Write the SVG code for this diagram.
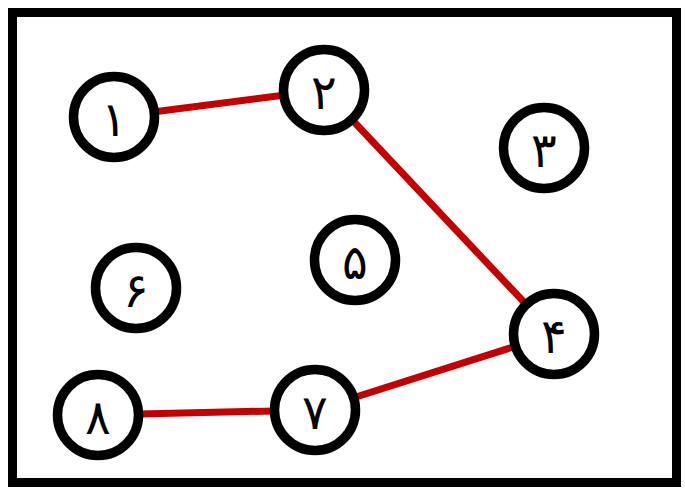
<svg xmlns="http://www.w3.org/2000/svg" width="685" height="491" viewBox="0 0 685 491">
  <style>
    .frame { fill: #ffffff; stroke: #000000; stroke-width: 9; }
    .edge { stroke: #c40000; stroke-width: 7; stroke-linecap: butt; }
    .node circle { fill: #ffffff; stroke: #000000; stroke-width: 9.5; }
    .node text { font-family: "DejaVu Sans", "Noto Sans", sans-serif; font-size: 48px; font-weight: normal; fill: #000000; text-anchor: middle; dominant-baseline: central; }
  </style>
  <rect class="frame" x="12.5" y="12.5" width="664" height="470"/>
  <g id="connectors">
    <line class="edge" x1="114" y1="117" x2="324" y2="90"/>
    <line class="edge" x1="324" y1="90" x2="554" y2="334"/>
    <line class="edge" x1="554" y1="334" x2="315" y2="410"/>
    <line class="edge" x1="315" y1="410" x2="98" y2="415"/>
  </g>
  <g id="n1" class="node"><circle cx="114" cy="117" r="40.5"/><text x="114" y="119">۱</text></g>
  <g id="n2" class="node"><circle cx="324" cy="90" r="40.5"/><text x="324" y="92">۲</text></g>
  <g id="n3" class="node"><circle cx="544" cy="148" r="40.5"/><text x="544" y="150">۳</text></g>
  <g id="n4" class="node"><circle cx="554" cy="334" r="40.5"/><text x="554" y="336">۴</text></g>
  <g id="n5" class="node"><circle cx="355" cy="260" r="40.5"/><text x="355" y="262">۵</text></g>
  <g id="n6" class="node"><circle cx="136" cy="288" r="40.5"/><text x="136" y="290">۶</text></g>
  <g id="n7" class="node"><circle cx="315" cy="410" r="40.5"/><text x="315" y="412">۷</text></g>
  <g id="n8" class="node"><circle cx="98" cy="415" r="40.5"/><text x="98" y="417">۸</text></g>
</svg>
